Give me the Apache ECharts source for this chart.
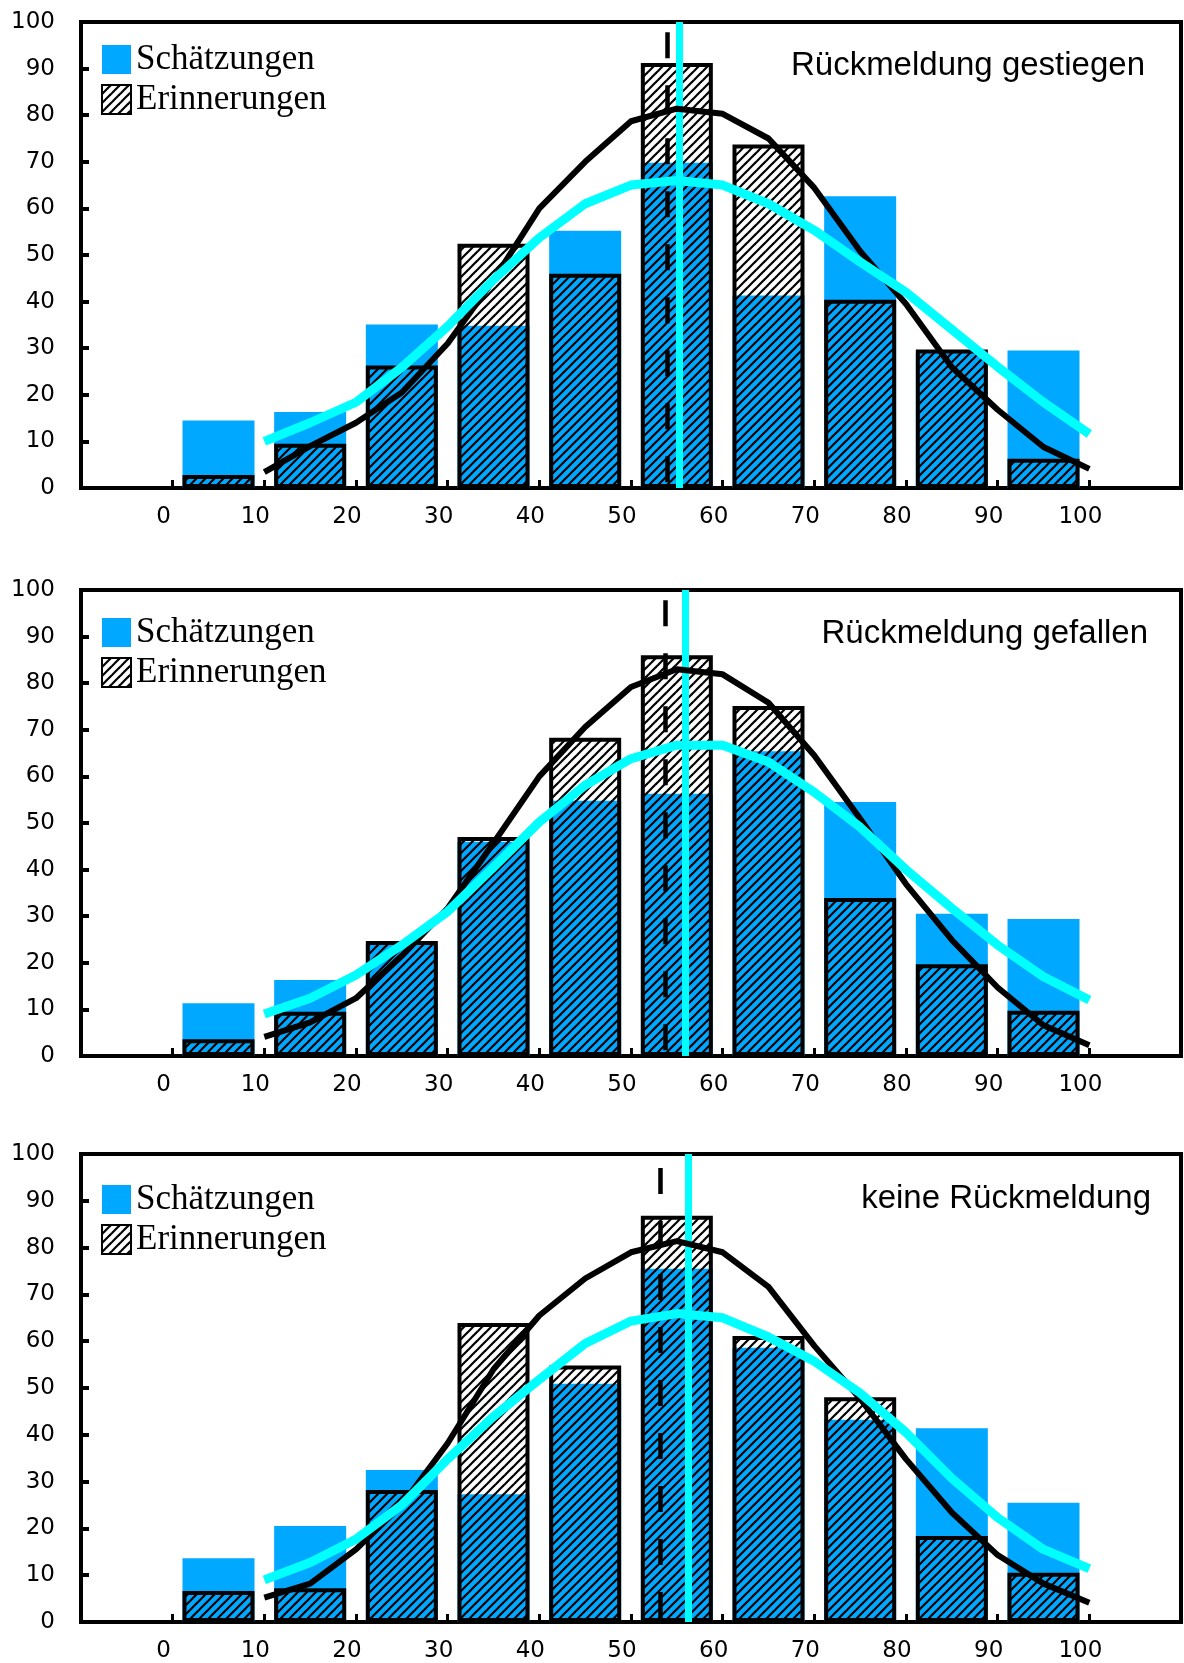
<!DOCTYPE html>
<html><head><meta charset="utf-8">
<script src="https://cdn.jsdelivr.net/npm/echarts@6/dist/echarts.min.js"></script>
<style>html,body{margin:0;padding:0;background:#fff}#c{width:1184px;height:1663px}</style>
</head><body><div id="c"></div>
<script>
// ---- data ----
const binCenters = [5, 15, 25, 35, 45, 55, 65, 75, 85, 95];
const curveX = [10, 15, 20, 25, 30, 35, 40, 45, 50, 55, 60, 65, 70, 75, 80, 85, 90, 95, 100];
const xTickLabels = ['0','10','20','30','40','50','60','70','80','90','100'];
const panelTitles = ['Rückmeldung gestiegen', 'Rückmeldung gefallen', 'keine Rückmeldung'];

// Schätzungen (blue bars)
const est1 = [14.5, 16.3, 35.1, 34.8, 55.2, 69.8, 41.3, 62.6, 29.0, 29.5];
const est2 = [11.3, 16.3, 24.0, 46.0, 54.8, 56.3, 65.4, 54.5, 30.5, 29.4];
const est3 = [13.6, 20.5, 32.5, 27.3, 50.9, 75.5, 58.6, 43.2, 41.4, 25.5];
// Erinnerungen (hatched bars)
const mem1 = [2.8, 9.5, 26.3, 52.4, 46.0, 91.2, 73.7, 40.4, 29.7, 6.3];
const mem2 = [3.6, 9.5, 24.7, 47.0, 68.3, 86.0, 75.1, 33.9, 19.7, 9.7];
const mem3 = [6.6, 7.2, 28.2, 63.9, 54.8, 86.8, 61.1, 48.0, 18.4, 10.5];
// fitted curve for Erinnerungen (black)
const memFit1 = [3.4, 9.0, 14.0, 20.5, 31.0, 44.6, 60.0, 70.0, 78.7, 81.4, 80.3, 75.0, 64.4, 50.8, 39.5, 25.9, 16.8, 8.8, 4.1];
const memFit2 = [4.1, 7.2, 12.4, 21.5, 31.7, 45.7, 60.0, 70.6, 79.2, 83.0, 81.9, 75.8, 64.5, 50.9, 36.9, 24.9, 14.7, 6.6, 2.3];
const memFit3 = [5.2, 8.2, 15.5, 25.0, 38.2, 54.0, 65.5, 73.4, 79.0, 81.4, 79.0, 71.6, 59.0, 47.7, 34.8, 23.4, 14.3, 8.2, 4.1];
// fitted curve for Schätzungen (cyan)
const estFit1 = [10.0, 14.0, 18.4, 25.9, 34.7, 44.7, 53.7, 61.0, 65.0, 66.0, 65.0, 61.0, 55.3, 48.5, 42.0, 34.0, 26.0, 18.4, 11.6];
const estFit2 = [9.0, 12.4, 17.4, 23.8, 31.0, 40.5, 50.2, 58.1, 63.8, 66.7, 66.7, 63.1, 56.6, 49.1, 40.0, 31.7, 23.8, 17.0, 12.0];
const estFit3 = [9.0, 12.7, 17.7, 25.0, 34.8, 43.9, 51.8, 59.5, 64.3, 65.9, 65.0, 60.9, 55.7, 48.9, 40.5, 30.7, 22.3, 15.5, 11.4];
// means (vertical lines)
const estMean = [55.3, 55.9, 56.2];
const memMean = [54.0, 53.7, 53.2];
const memMeanTop = [97.8, 97.8, 97.0];

// ---- style ----
const BLUE = '#00a8ff';
const CYAN = '#00ffff';
const panels = [
  {top: 22, bottom: 1175, legendTop: 42, titleTop: 49, titleRight: 39},
  {top: 590, bottom: 607, legendTop: 615, titleTop: 617, titleRight: 36},
  {top: 1154, bottom: 41, legendTop: 1182, titleTop: 1182, titleRight: 33}
];
const ests = [est1, est2, est3];
const mems = [mem1, mem2, mem3];
const memFits = [memFit1, memFit2, memFit3];
const estFits = [estFit1, estFit2, estFit3];

function hatchCanvas() {
  const s = 9, c = document.createElement('canvas');
  c.width = s; c.height = s;
  const g = c.getContext('2d');
  g.strokeStyle = '#000'; g.lineWidth = 2.2; g.lineCap = 'square';
  g.beginPath(); g.moveTo(-2, s + 2); g.lineTo(s + 2, -2); g.stroke();
  g.beginPath(); g.moveTo(-2, 2); g.lineTo(2, -2); g.stroke();
  g.beginPath(); g.moveTo(s - 2, s + 2); g.lineTo(s + 2, s - 2); g.stroke();
  return c;
}
const hatch = {image: hatchCanvas(), repeat: 'repeat'};
const zip = (xs, ys) => xs.map((x, i) => [x, ys[i]]);

const grid = [], xAxis = [], yAxis = [], series = [], legend = [], title = [];
panels.forEach((p, i) => {
  grid.push({left: 81, right: 2, top: p.top, bottom: p.bottom, show: true, borderColor: '#000', borderWidth: 4});
  xAxis.push({
    gridIndex: i, type: 'value', min: -10, max: 110, interval: 10,
    axisLine: {onZero: false, lineStyle: {color: '#000', width: 4}},
    axisTick: {inside: true, length: 8, lineStyle: {color: '#000', width: 3}},
    axisLabel: {fontFamily: 'DejaVu Sans', fontSize: 23, color: '#000', margin: 18, padding: [0, 18, 0, 0],
      formatter: v => xTickLabels.includes(String(v)) ? String(v) : ''},
    splitLine: {show: false}
  });
  yAxis.push({
    gridIndex: i, type: 'value', min: 0, max: 100, interval: 10,
    axisLine: {onZero: false, lineStyle: {color: '#000', width: 4}},
    axisTick: {inside: true, length: 8, lineStyle: {color: '#000', width: 4}},
    axisLabel: {fontFamily: 'DejaVu Sans', fontSize: 23, color: '#000', margin: 26},
    splitLine: {show: false}
  });
  series.push({
    type: 'bar', name: 'Schätzungen', xAxisIndex: i, yAxisIndex: i, z: 2,
    data: zip(binCenters, ests[i]), barWidth: 72, barGap: '-100%',
    itemStyle: {color: BLUE}
  });
  series.push({
    type: 'bar', name: 'Erinnerungen', xAxisIndex: i, yAxisIndex: i, z: 3,
    data: zip(binCenters, mems[i]), barWidth: 72, barGap: '-100%',
    itemStyle: {color: hatch, borderColor: '#000', borderWidth: 4}
  });
  series.push({
    type: 'line', name: 'memMean', xAxisIndex: i, yAxisIndex: i, z: 4, data: [],
    markLine: {silent: true, symbol: ['none', 'none'], label: {show: false},
      lineStyle: {color: '#000', width: 4.5, type: [26, 27]},
      data: [[{coord: [memMean[i], memMeanTop[i]]}, {coord: [memMean[i], 0]}]]}
  });
  series.push({
    type: 'line', name: 'memFit', xAxisIndex: i, yAxisIndex: i, z: 5,
    data: zip(curveX, memFits[i]), symbol: 'none',
    lineStyle: {color: '#000', width: 6, join: 'round'}
  });
  series.push({
    type: 'line', name: 'estFit', xAxisIndex: i, yAxisIndex: i, z: 6,
    data: zip(curveX, estFits[i]), symbol: 'none',
    lineStyle: {color: CYAN, width: 9, join: 'round'}
  });
  series.push({
    type: 'line', name: 'estMean', xAxisIndex: i, yAxisIndex: i, z: 7, data: [],
    markLine: {silent: true, symbol: ['none', 'none'], label: {show: false},
      lineStyle: {color: CYAN, width: 7, type: 'solid'},
      data: [{xAxis: estMean[i]}]}
  });
  legend.push({
    left: 101, top: p.legendTop, orient: 'vertical', padding: 0, itemWidth: 29, itemHeight: 29, itemGap: 5,
    selectedMode: false,
    textStyle: {fontFamily: 'Liberation Serif', fontSize: 35, color: '#000'},
    data: [
      {name: 'Schätzungen', icon: 'rect', itemStyle: {color: BLUE, borderWidth: 0}},
      {name: 'Erinnerungen', icon: 'rect', itemStyle: {color: hatch, borderColor: '#000', borderWidth: 2}}
    ]
  });
  title.push({
    text: panelTitles[i], right: p.titleRight, top: p.titleTop, padding: 0,
    textStyle: {fontFamily: 'Liberation Sans', fontSize: 33, fontWeight: 'normal', color: '#000'}
  });
});

const chart = echarts.init(document.getElementById('c'), null, {renderer: 'canvas'});
chart.setOption({animation: false, backgroundColor: '#fff', grid, xAxis, yAxis, series, legend, title});
</script>
</body></html>
